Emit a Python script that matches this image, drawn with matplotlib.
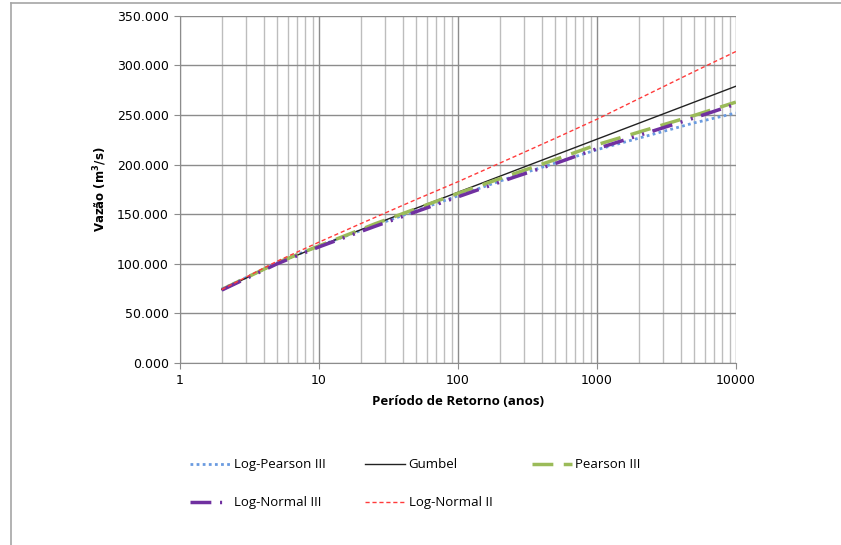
import matplotlib
matplotlib.use("Agg")
import matplotlib.pyplot as plt
from matplotlib.lines import Line2D
from matplotlib.ticker import FuncFormatter, LogLocator, NullFormatter

# return periods (anos)
periods = [2, 5, 10, 20, 25, 50, 100, 250, 500, 1000, 5000, 10000]

# vazão (m3/s) for each distribution
log_pearson3 = [74.5, 101.0, 118.0, 133.5, 138.5, 153.5, 168.5, 188.0, 201.5, 215.0, 242.0, 252.0]
gumbel = [74.0, 100.3, 117.7, 134.3, 139.7, 156.0, 172.1, 193.4, 209.5, 225.6, 262.9, 279.0]
pearson3 = [74.0, 101.0, 118.0, 134.5, 140.0, 155.5, 171.0, 190.5, 205.0, 220.0, 249.5, 263.0]
log_normal3 = [73.5, 100.0, 117.0, 132.5, 137.5, 152.5, 167.5, 187.0, 201.0, 216.0, 247.0, 261.0]
log_normal2 = [74.0, 102.6, 121.8, 140.5, 146.4, 164.8, 182.7, 207.5, 226.4, 245.7, 293.7, 314.0]

fig = plt.figure(figsize=(8.41, 5.45), dpi=100)
ax = fig.add_axes([0.214, 0.334, 0.661, 0.637])

l_lp3, = ax.plot(periods, log_pearson3, color="#6a9be0", lw=2.0, ls=(0, (1, 1.2)), label="Log-Pearson III")
l_gum, = ax.plot(periods, gumbel, color="#222222", lw=1.0, ls="-", label="Gumbel")
l_p3, = ax.plot(periods, pearson3, color="#9bbb59", lw=2.5, ls=(0, (6, 3)), label="Pearson III")
l_ln3, = ax.plot(periods, log_normal3, color="#7030a0", lw=2.5, ls=(0, (6, 2.5, 0.6, 2.5, 0.6, 2.5)), label="Log-Normal III")
l_ln2, = ax.plot(periods, log_normal2, color="#ff3b3b", lw=1.0, ls=(0, (3, 2)), label="Log-Normal II")

ax.set_xscale("log")
ax.set_xlim(1, 10000)
ax.set_ylim(0, 350)
ax.set_yticks(range(0, 351, 50))
ax.yaxis.set_major_formatter(FuncFormatter(lambda v, p: f"{v:.3f}"))
ax.xaxis.set_major_locator(LogLocator(base=10, numticks=10))
ax.xaxis.set_minor_locator(LogLocator(base=10, subs=range(2, 10), numticks=50))
ax.xaxis.set_major_formatter(FuncFormatter(lambda v, p: f"{int(round(v))}"))
ax.xaxis.set_minor_formatter(NullFormatter())

ax.grid(which="major", axis="both", color="#8c8c8c", lw=1.0)
ax.grid(which="minor", axis="x", color="#bdbdbd", lw=1.0)
ax.set_axisbelow(True)

for side in ("top", "right"):
    ax.spines[side].set_visible(False)
for side in ("left", "bottom"):
    ax.spines[side].set_color("#8c8c8c")
ax.tick_params(axis="both", which="major", length=4, color="#8c8c8c", labelsize=9, pad=4)
ax.tick_params(axis="x", which="minor", length=0)

ax.set_xlabel("Período de Retorno (anos)", fontsize=9.5, fontweight="bold", family="Open Sans", labelpad=6)
ax.set_ylabel("Vazão (m$^{\\mathbf{3}}$/s)", fontsize=8.5, fontweight="bold", labelpad=6)

handles = [l_lp3, l_ln3, l_gum, l_ln2, l_p3]
fig.legend(handles=handles, labels=[h.get_label() for h in handles], ncol=3,
           loc="center left", bbox_to_anchor=(0.212, 0.112), frameon=False,
           prop={"family": "Open Sans", "size": 9.5}, handlelength=3.0,
           handletextpad=0.3, columnspacing=3.0, labelspacing=1.9)

# outer chart frame
fig.add_artist(Line2D([0.0125, 1.0], [0.994, 0.994], transform=fig.transFigure, color="#a6a6a6", lw=1.2))
fig.add_artist(Line2D([0.0125, 0.0125], [0.0, 0.994], transform=fig.transFigure, color="#a6a6a6", lw=1.2))

fig.savefig("out.png", dpi=100)
